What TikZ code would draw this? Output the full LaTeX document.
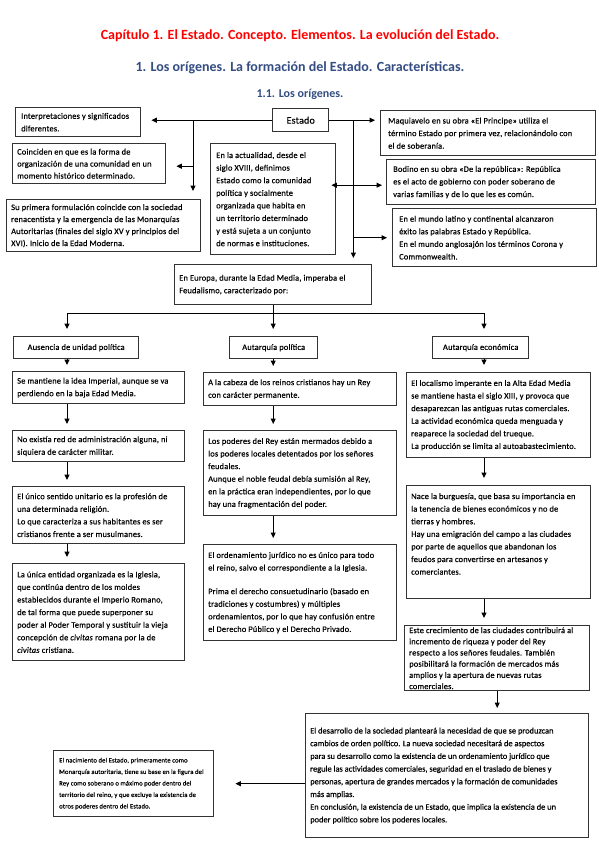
\documentclass[tikz,border=0pt]{standalone}
\usepackage{fontspec}
\setmainfont{Carlito}
\newfontfamily\bx{Carlito}[LetterSpace=2,FakeBold=0.4]
\newfontfamily\bxn{Carlito}[FakeBold=0.4]
\usetikzlibrary{arrows.meta,calc}
\definecolor{tred}{RGB}{255,0,0}
\definecolor{tblue}{RGB}{52,77,130}
\begin{document}
\begin{tikzpicture}[x=1pt,y=-1pt,
  every node/.style={inner sep=0pt},
  frame/.style n args={2}{draw=black!80, line width=1.4pt, fill=white, anchor=north west, inner sep=0pt, minimum width=#1, minimum height=#2},
  tx/.style={anchor=west, align=left, inner sep=0pt, font=\bx\fontsize{8.4}{12.6}\selectfont},
  ctx/.style={tx, anchor=center, align=center},
  ln/.style={line width=1pt, black},
  arr/.style={ln, -{Triangle[length=5.5pt,width=5pt]}},
  darr/.style={ln, {Triangle[length=5.5pt,width=5pt]}-{Triangle[length=5.5pt,width=5pt]}},
  ttl/.style={font=\fontsize{14}{16}\selectfont\bfseries}]
\useasboundingbox (0,0) rectangle (599,848);
\fill[white] (0,0) rectangle (599,848);

% titles
\node[ttl, text=tred] (t1) at (300,36) {Capítulo 1. El Estado. Concepto. Elementos. La evolución del Estado.};
\node[ttl, text=tblue] (t2) at (300,68) {1. Los orígenes. La formación del Estado. Características.};
\node[font=\fontsize{12}{14}\selectfont\bfseries, text=tblue] (t3) at (300,94) {1.1. Los orígenes.};

% frames
\node[frame={56pt}{23pt}] (estado) at (272,108) {};
\node[frame={125pt}{29pt}] (interp) at (15,107) {};
\node[frame={153pt}{40pt}] (coinc) at (12,143) {};
\node[frame={194pt}{52pt}] (supri) at (6,199) {};
\node[frame={125pt}{111pt}] (actual) at (210,143) {};
\node[frame={215pt}{45pt}] (maqui) at (380,110) {};
\node[frame={209pt}{45pt}] (bodino) at (386,159) {};
\node[frame={204pt}{58pt}] (latino) at (392,208) {};
\node[frame={197pt}{40pt}] (europa) at (174,264) {};
\node[frame={125pt}{22pt}] (aus) at (13,336) {};
\node[frame={88pt}{22pt}] (autpol) at (229,336) {};
\node[frame={96pt}{22pt}] (auteco) at (432,336) {};
\node[frame={172pt}{32pt}] (c1) at (12,371) {};
\node[frame={172pt}{31pt}] (c2) at (12,430) {};
\node[frame={172pt}{57pt}] (c3) at (12,486) {};
\node[frame={172pt}{97pt}] (c4) at (12,563) {};
\node[frame={193pt}{33pt}] (m1) at (203,372) {};
\node[frame={193pt}{85pt}] (m2) at (203,430) {};
\node[frame={193pt}{96pt}] (m3) at (203,544) {};
\node[frame={184pt}{85pt}] (r1) at (406,372) {};
\node[frame={184pt}{113pt}] (r2) at (406,485) {};
\node[frame={185pt}{65pt}] (r3) at (404,625) {};
\node[frame={283pt}{124pt}] (desarrollo) at (305,713) {};
\node[frame={160pt}{66pt}] (nacimiento) at (53,750) {};

% texts
\node[ctx, font=\bx\fontsize{10}{12}\selectfont] (estadoT) at (estado.center) {Estado};
\node[tx] (interpT) at ([xshift=6pt]interp.west) {Interpretaciones y significados\\diferentes.};
\node[tx, font=\bx\fontsize{8.4}{12}\selectfont] (coincT) at ([xshift=5pt]coinc.west) {Coinciden en que es la forma de\\organización de una comunidad en un\\momento histórico determinado.};
\node[tx, font=\bx\fontsize{8.4}{12}\selectfont] (supriT) at ([xshift=5pt]supri.west) {Su primera formulación coincide con la sociedad\\renacentista y la emergencia de las Monarquías\\Autoritarias (finales del siglo XV y principios del\\XVI). Inicio de la Edad Moderna.};
\node[tx] (actualT) at ([xshift=6pt]actual.west) {En la actualidad, desde el\\siglo XVIII, definimos\\Estado como la comunidad\\política y socialmente\\organizada que habita en\\un territorio determinado\\y está sujeta a un conjunto\\de normas e instituciones.};
\node[tx] (maquiT) at ([xshift=8pt]maqui.west) {Maquiavelo en su obra «El Principe» utiliza el\\término Estado por primera vez, relacionándolo con\\el de soberanía.};
\node[tx] (bodinoT) at ([xshift=7pt]bodino.west) {Bodino en su obra «De la república»: República\\es el acto de gobierno con poder soberano de\\varias familias y de lo que les es común.};
\node[tx] (latinoT) at ([xshift=7pt]latino.west) {En el mundo latino y continental alcanzaron\\éxito las palabras Estado y República.\\En el mundo anglosajón los términos Corona y\\Commonwealth.};
\node[tx] (europaT) at ([xshift=5pt]europa.west) {En Europa, durante la Edad Media, imperaba el\\Feudalismo, caracterizado por:};
\node[ctx] (ausT) at (aus.center) {Ausencia de unidad política};
\node[ctx] (autpolT) at (autpol.center) {Autarquía política};
\node[ctx] (autecoT) at (auteco.center) {Autarquía económica};
\node[tx] (c1T) at ([xshift=5pt]c1.west) {Se mantiene la idea Imperial, aunque se va\\perdiendo en la baja Edad Media.};
\node[tx] (c2T) at ([xshift=5pt]c2.west) {No existía red de administración alguna, ni\\siquiera de carácter militar.};
\node[tx] (c3T) at ([xshift=5pt]c3.west) {El único sentido unitario es la profesión de\\una determinada religión.\\Lo que caracteriza a sus habitantes es ser\\cristianos frente a ser musulmanes.};
\node[tx] (c4T) at ([xshift=5pt]c4.west) {La única entidad organizada es la Iglesia,\\que continúa dentro de los moldes\\establecidos durante el Imperio Romano,\\de tal forma que puede superponer su\\poder al Poder Temporal y sustituir la vieja\\concepción de \textit{civitas} romana por la de\\\textit{civitas} cristiana.};
\node[tx] (m1T) at ([xshift=5pt]m1.west) {A la cabeza de los reinos cristianos hay un Rey\\con carácter permanente.};
\node[tx] (m2T) at ([xshift=5pt]m2.west) {Los poderes del Rey están mermados debido a\\los poderes locales detentados por los señores\\feudales.\\Aunque el noble feudal debía sumisión al Rey,\\en la práctica eran independientes, por lo que\\hay una fragmentación del poder.};
\node[tx] (m3T) at ([xshift=5pt]m3.west) {El ordenamiento jurídico no es único para todo\\el reino, salvo el correspondiente a la Iglesia.\\[11pt]Prima el derecho consuetudinario (basado en\\tradiciones y costumbres) y múltiples\\ordenamientos, por lo que hay confusión entre\\el Derecho Público y el Derecho Privado.};
\node[tx] (r1T) at ([xshift=5pt]r1.west) {El localismo imperante en la Alta Edad Media\\se mantiene hasta el siglo XIII, y provoca que\\desaparezcan las antiguas rutas comerciales.\\La actividad económica queda menguada y\\reaparece la sociedad del trueque.\\La producción se limita al autoabastecimiento.};
\node[tx, anchor=north west] (r2T) at ([xshift=5pt,yshift=-8pt]r2.north west) {Nace la burguesía, que basa su importancia en\\la tenencia de bienes económicos y no de\\tierras y hombres.\\Hay una emigración del campo a las ciudades\\por parte de aquellos que abandonan los\\feudos para convertirse en artesanos y\\comerciantes.};
\node[tx, font=\bx\fontsize{8.4}{11.2}\selectfont] (r3T) at ([xshift=5pt]r3.west) {Este crecimiento de las ciudades contribuirá al\\incremento de riqueza y poder del Rey\\respecto a los señores feudales. También\\posibilitará la formación de mercados más\\amplios y la apertura de nuevas rutas\\comerciales.};
\node[tx, font=\bxn\fontsize{8.4}{12.7}\selectfont] (desarrolloT) at ([xshift=5pt]desarrollo.west) {El desarrollo de la sociedad planteará la necesidad de que se produzcan\\cambios de orden político. La nueva sociedad necesitará de aspectos\\para su desarrollo como la existencia de un ordenamiento jurídico que\\regule las actividades comerciales, seguridad en el traslado de bienes y\\personas, apertura de grandes mercados y la formación de comunidades\\más amplias.\\En conclusión, la existencia de un Estado, que implica la existencia de un\\poder político sobre los poderes locales.};
\node[tx, font=\bx\fontsize{6.6}{11.5}\selectfont] (nacimientoT) at ([xshift=6pt]nacimiento.west) {El nacimiento del Estado, primeramente como\\Monarquía autoritaria, tiene su base en la figura del\\Rey como soberano o máximo poder dentro del\\territorio del reino, y que excluye la existencia de\\otros poderes dentro del Estado.};

% connectors top
\path (estado.west) ++(-79,0) coordinate (jL);
\path (estado.east) ++(24,0) coordinate (jR);
\path (jL) ++(0,46) coordinate (bC);
\path (bodino.west) ++(0,3) coordinate (dA);
\draw[arr, shorten >=10pt] (estado.west) -- (estado.west -| interp.east);
\draw[arr, shorten >=8pt] (jL) -- (jL |- supri.north);
\draw[arr, shorten >=10pt] (bC) -- (bC -| coinc.east);
\draw[arr, shorten >=5pt] (estado.east) -- (estado.east -| maqui.west);
\draw[arr, shorten >=6pt] (jR) -- (jR |- europa.north);
\draw[arr, shorten >=5pt] (jR |- latino.west) -- (latino.west);
\draw[darr, shorten <=-5pt, shorten >=4pt] (actual.east |- dA) -- (dA);

% Europa branches
\coordinate (hL) at (67,313);
\coordinate (hR) at (484,313);
\draw[ln] (hL) -- (hR);
\draw[ln] (europa.south) -- (europa.south |- hL);
\draw[arr, shorten >=7pt] (hL) -- (hL |- aus.north);
\draw[arr, shorten >=7pt] (europa.south |- hL) -- (europa.south |- autpol.north);
\draw[arr, shorten >=7pt] (hR) -- (hR |- auteco.north);

% column arrows
\foreach \a/\b in {aus/c1, c1/c2, c2/c3, c3/c4}
  \draw[arr, shorten >=6pt] (hL |- \a.south) -- (hL |- \b.north);
\foreach \a/\b in {autpol/m1, m1/m2, m2/m3}
  \draw[arr, shorten >=6pt] (europa.south |- \a.south) -- (europa.south |- \b.north);
\foreach \a/\b in {auteco/r1, r1/r2, r2/r3}
  \draw[arr, shorten >=7pt] (hR |- \a.south) -- (hR |- \b.north);
\draw[arr, shorten >=5pt] (r3.south) -- (r3.south |- desarrollo.north);
\draw[arr, shorten >=21pt] (desarrollo.west |- nacimiento.east) -- (nacimiento.east);
\end{tikzpicture}
\end{document}
